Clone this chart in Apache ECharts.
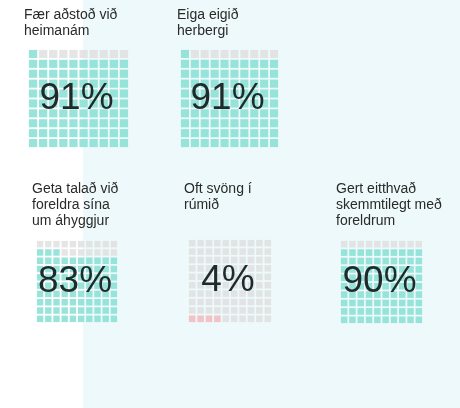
<!DOCTYPE html>
<html>
<head>
<meta charset="utf-8">
<script src="https://cdn.jsdelivr.net/npm/echarts@6/dist/echarts.min.js"></script>
<style>
  html, body { margin: 0; padding: 0; background: #fff; }
  #chart { width: 460px; height: 408px; }
</style>
</head>
<body>
<div id="chart"></div>
<script>
// 数据
const titles = [
  'Fær aðstoð við\nheimanám',
  'Eiga eigið\nherbergi',
  'Geta talað við\nforeldra sína\num áhyggjur',
  'Oft svöng í\nrúmið',
  'Gert eitthvað\nskemmtilegt með\nforeldrum'
]
const percents = [91, 91, 83, 4, 90]
const fillColors = ['#7fddd1', '#7fddd1', '#7fddd1', '#f3b4b6', '#7fddd1']
const cols = ['0', '1', '2', '3', '4', '5', '6', '7', '8', '9']
const rows = ['0', '1', '2', '3', '4', '5', '6', '7', '8', '9']

// 布局
const boxes = [
  { left: 28, top: 49, width: 101, height: 99, titleX: 24, titleY: 7 },
  { left: 180, top: 49, width: 99, height: 99, titleX: 177, titleY: 7 },
  { left: 36, top: 240, width: 82, height: 83, titleX: 32, titleY: 181 },
  { left: 188, top: 239, width: 84, height: 84, titleX: 184, titleY: 181 },
  { left: 340, top: 240, width: 83, height: 84, titleX: 336, titleY: 181 }
]
const emptyColor = '#dedede'
const font = '"Liberation Sans", Arial, sans-serif'

const chart = echarts.init(document.getElementById('chart'), null, { renderer: 'canvas' })

const grid = [], xAxis = [], yAxis = [], series = []
const graphic = [
  // 背景色块
  { type: 'rect', z: -10, shape: { x: 83, y: 0, width: 377, height: 408 }, style: { fill: '#edf9fa' } }
]

boxes.forEach((b, k) => {
  grid.push({ left: b.left, top: b.top, width: b.width, height: b.height })
  xAxis.push({ type: 'category', gridIndex: k, data: cols, show: false })
  yAxis.push({ type: 'category', gridIndex: k, data: rows, show: false })
  const cw = b.width / 10 - 1.8
  const ch = b.height / 10 - 1.8
  const cells = []
  rows.forEach((r, ri) => {
    cols.forEach((c, ci) => {
      const filled = ri * 10 + ci < percents[k]
      cells.push({ value: [c, r], itemStyle: { color: filled ? fillColors[k] : emptyColor } })
    })
  })
  series.push({
    type: 'scatter',
    xAxisIndex: k,
    yAxisIndex: k,
    symbol: 'rect',
    symbolSize: [cw, ch],
    silent: true,
    data: cells
  })
  graphic.push({
    type: 'text',
    left: b.titleX,
    top: b.titleY,
    style: { text: titles[k], fill: '#2a2a2a', font: '14px ' + font, lineHeight: 16 }
  })
  graphic.push({
    type: 'text',
    z: 10,
    x: b.left + b.width / 2 - 2,
    y: b.top + b.height / 2,
    style: {
      text: percents[k] + '%',
      fill: '#1f2a2a',
      font: '37px ' + font,
      align: 'center',
      verticalAlign: 'middle'
    }
  })
})

chart.setOption({
  animation: false,
  grid,
  xAxis,
  yAxis,
  series,
  graphic
})
</script>
</body>
</html>
